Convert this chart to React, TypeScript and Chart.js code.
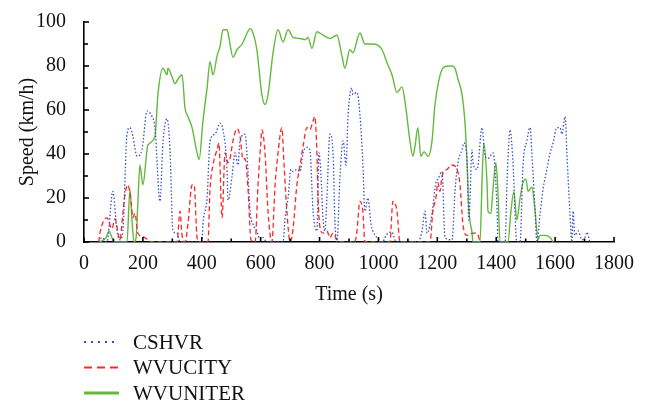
import React, { useEffect, useRef } from "react";
import { Chart, registerables } from "chart.js";

Chart.register(...registerables);

const xTickValues = [0, 200, 400, 600, 800, 1000, 1200, 1400, 1600, 1800];
const yTickValues = [0, 20, 40, 60, 80, 100];
const seriesNames = ["CSHVR", "WVUCITY", "WVUNITER"];

const cshvrT = [50, 61, 78, 98, 112, 122, 132, 146, 156, 166, 180, 197, 214, 231, 241, 258, 268, 282, 292, 302, 316, 326, 401, 404, 418, 428, 445, 462, 472, 486, 489, 503, 513, 523, 530, 547, 554, 564, 574, 587, 598, 608, 620, 676, 683, 693, 703, 710, 723, 734, 744, 757, 767, 778, 791, 798, 805, 812, 818, 825, 835, 846, 852, 859, 869, 880, 890, 897, 910, 913, 927, 937, 947, 954, 964, 975, 981, 995, 1015, 1022, 1032, 1046, 1056, 1066, 1134, 1148, 1158, 1165, 1182, 1195, 1202, 1216, 1226, 1250, 1260, 1270, 1284, 1290, 1301, 1307, 1318, 1321, 1335, 1352, 1362, 1372, 1389, 1403, 1406, 1430, 1437, 1447, 1457, 1470, 1481, 1491, 1504, 1515, 1521, 1532, 1538, 1549, 1559, 1572, 1583, 1593, 1606, 1617, 1623, 1634, 1640, 1650, 1657, 1661, 1667, 1678, 1691, 1701, 1708, 1718];
const cshvrV = [0, 2, 0, 23, 5, 1, 5, 49, 52, 48, 39, 42, 59.5, 57, 52, 18.5, 45, 56, 42, 5, 4, 0, 0, 8, 20, 46, 49, 54, 51, 32, 19, 30, 40.5, 35, 46, 49, 39, 14, 8, 5, 1, 2, 0, 0, 11, 20, 33, 32, 33, 32, 40.5, 43, 42, 14, 5, 40.5, 30, 10, 5, 20, 49, 40, 10, 0, 28.6, 46, 35, 58, 70, 67, 68, 58, 36, 14, 20, 8, 5, 2, 0, 2, 4, 4.5, 1, 0, 0, 5, 14, 4, 13, 27, 28.6, 32, 2, 1, 23, 36, 42, 45, 37.5, 10, 42, 36, 33, 52, 39, 38, 40.5, 14, 0, 0, 28.6, 51, 36, 0, 0, 35, 46, 52, 40.5, 14, 0, 13, 24, 33, 40.5, 45, 52, 52, 49, 57, 40.5, 14, 0, 14, 3, 5, 1, 2, 4.5, 0];

const wvucityT = [50, 54, 78, 95, 105, 122, 132, 139, 149, 160, 166, 173, 183, 200, 217, 231, 316, 326, 333, 343, 353, 367, 374, 384, 391, 421, 428, 438, 445, 452, 458, 469, 479, 489, 496, 506, 520, 530, 540, 547, 557, 567, 581, 591, 601, 604, 615, 625, 638, 649, 659, 672, 679, 689, 700, 710, 723, 734, 744, 757, 767, 778, 784, 791, 795, 801, 812, 825, 835, 846, 859, 869, 920, 927, 937, 947, 954, 1039, 1049, 1063, 1073, 1175, 1185, 1195, 1202, 1209, 1216, 1233, 1250, 1267, 1277, 1287, 1301, 1321, 1335, 1345];
const wvucityV = [0, 4, 11, 6, 10.5, 1, 13, 21.5, 26, 18, 11, 13, 4, 2.5, 1, 0, 0, 14, 3, 0, 8, 26, 26, 2, 0, 0, 24, 35, 39, 42, 45, 11, 40.5, 36, 38, 46, 51.5, 48, 37.5, 38, 24, 1, 0, 26, 46, 51, 40, 14, 0, 26, 40.5, 52, 36, 14, 0, 6, 26, 35, 43.5, 52, 51, 55, 57, 40.5, 20, 7, 4, 5, 2, 4, 1, 0, 0, 5, 18.5, 14, 0, 0, 18.5, 14, 0, 0, 14, 20, 27, 23, 30, 33, 35, 33, 26, 8, 3, 4, 4, 0];

const wvuniterT = [54, 75, 85, 92, 102, 146, 156, 163, 170, 177, 183, 190, 200, 217, 241, 251, 268, 282, 285, 299, 309, 319, 333, 343, 353, 367, 384, 391, 404, 418, 428, 438, 452, 462, 472, 486, 492, 506, 520, 537, 554, 564, 574, 587, 604, 615, 625, 642, 659, 676, 693, 710, 734, 751, 761, 774, 791, 812, 835, 859, 876, 886, 903, 913, 937, 954, 981, 1012, 1029, 1046, 1063, 1080, 1090, 1107, 1117, 1124, 1134, 1144, 1155, 1168, 1182, 1192, 1206, 1219, 1236, 1250, 1260, 1270, 1284, 1294, 1301, 1307, 1318, 1321, 1345, 1352, 1358, 1369, 1372, 1382, 1389, 1399, 1406, 1413, 1440, 1450, 1460, 1470, 1481, 1491, 1501, 1508, 1521, 1532, 1542, 1549, 1566, 1583, 1593];
const wvuniterV = [0, 2, 5, 3, 0, 0, 24, 10, 0, 2, 18, 35, 26, 44, 48, 67, 79, 76, 79, 75, 72, 74, 76, 61, 57, 52, 40.5, 37.5, 55, 70, 82, 76, 84.6, 89, 96.5, 96.5, 93, 84, 87.5, 90, 95, 97, 95, 87.5, 67, 62.5, 67, 86, 96.5, 91, 96.5, 93, 92.5, 92, 93, 88, 95.6, 94, 92.5, 94, 84.6, 79, 87.5, 86, 95, 90, 90, 87.5, 81.5, 76, 68, 70.5, 64, 46, 39, 43.5, 52, 39, 41, 39, 46, 62.5, 74, 79, 80, 80, 79, 74, 67, 54, 36, 15, 4, 0, 0, 28.6, 45, 26, 14, 13, 24, 36, 22, 0, 0, 14, 23, 10, 20, 27, 28.6, 23, 25, 14, 1, 3, 3, 2, 0];

const toPoints = (t: number[], v: number[]) => t.map((x, i) => ({ x, y: v[i] }));

const FONT = "'Liberation Serif', 'Times New Roman', serif";
const FONT_SIZE = 20;
const colors = ["#3d4fc4", "#ff2626", "#63b93c"];
const dashes = [[1.5, 2], [5, 3], []];
const legendDashes = [[2, 5], [8, 5], []];
const legendWidths = [2, 2, 3];

const tickPlugin = {
  id: "innerTicks",
  afterDraw(chart: any) {
    const { ctx, chartArea, scales } = chart;
    const xs = scales.x;
    const ys = scales.y;
    ctx.save();
    ctx.strokeStyle = "#000";
    ctx.lineWidth = 1.6;
    for (let v = 0; v <= 100; v += 10) {
      const y = ys.getPixelForValue(v);
      const len = v % 20 === 0 ? 5 : 4;
      ctx.beginPath();
      ctx.moveTo(chartArea.left, y);
      ctx.lineTo(chartArea.left + len, y);
      ctx.stroke();
    }
    for (let t = 0; t <= 1800; t += 100) {
      const x = xs.getPixelForValue(t);
      const len = t % 200 === 0 ? 5 : 3.5;
      ctx.beginPath();
      ctx.moveTo(x, chartArea.bottom);
      ctx.lineTo(x, chartArea.bottom - len);
      ctx.stroke();
    }
    ctx.restore();
  },
};

const legendPlugin = {
  id: "customLegend",
  afterDraw(chart: any) {
    const { ctx, chartArea } = chart;
    const x0 = chartArea.left;
    ctx.save();
    seriesNames.forEach((name, i) => {
      const y = chart.height - 65 + i * 25.5;
      ctx.beginPath();
      ctx.setLineDash(legendDashes[i]);
      ctx.strokeStyle = colors[i];
      ctx.lineWidth = legendWidths[i];
      ctx.moveTo(x0, y);
      ctx.lineTo(x0 + 35, y);
      ctx.stroke();
      ctx.setLineDash([]);
      ctx.fillStyle = "#111";
      ctx.font = `21px ${FONT}`;
      ctx.textBaseline = "middle";
      ctx.textAlign = "left";
      ctx.fillText(name, x0 + 49, y + 1);
    });
    ctx.restore();
  },
};

export default function App() {
  const ref = useRef<HTMLCanvasElement | null>(null);
  useEffect(() => {
    if (!ref.current) return;
    const data = [toPoints(cshvrT, cshvrV), toPoints(wvucityT, wvucityV), toPoints(wvuniterT, wvuniterV)];
    const chart = new Chart(ref.current, {
      type: "line",
      data: {
        datasets: seriesNames.map((name, i) => ({
          label: name,
          data: data[i],
          borderColor: colors[i],
          borderDash: dashes[i],
          borderWidth: i === 2 ? 1.4 : 1.3,
          pointRadius: 0,
          fill: false,
          cubicInterpolationMode: "monotone" as const,
        })),
      },
      options: {
        responsive: false,
        animation: false,
        layout: { padding: { top: 15, right: 39, bottom: 95, left: 0 } },
        plugins: { legend: { display: false }, tooltip: { enabled: false } },
        scales: {
          x: {
            type: "linear",
            min: 0,
            max: 1800,
            afterBuildTicks: (s: any) => {
              s.ticks = xTickValues.map((value) => ({ value }));
            },
            afterFit: (s: any) => {
              s.height = 70;
            },
            ticks: {
              color: "#111",
              font: { family: FONT, size: FONT_SIZE },
              padding: 2,
              maxRotation: 0,
              autoSkip: false,
              callback: (v: any) => String(v),
            },
            grid: { display: false },
            border: { display: true, color: "#000", width: 1.6 },
            title: { display: true, text: "Time (s)", color: "#111", font: { family: FONT, size: FONT_SIZE }, padding: { top: 0, bottom: 5 } },
          },
          y: {
            type: "linear",
            min: 0,
            max: 100,
            afterBuildTicks: (s: any) => {
              s.ticks = yTickValues.map((value) => ({ value }));
            },
            afterFit: (s: any) => {
              s.width = 84;
            },
            ticks: { color: "#111", font: { family: FONT, size: FONT_SIZE }, padding: 10, callback: (v: any) => String(v) },
            grid: { display: false },
            border: { display: true, color: "#000", width: 1.6 },
            title: { display: true, text: "Speed (km/h)", color: "#111", font: { family: FONT, size: FONT_SIZE }, padding: { top: 16, bottom: 0 } },
          },
        },
      },
      plugins: [tickPlugin, legendPlugin],
    });
    return () => chart.destroy();
  }, []);
  return (
    <div style={{ position: "fixed", left: 0, top: 0, width: 653, height: 407, background: "#fff" }}>
      <canvas ref={ref} width={653} height={407} style={{ display: "block" }} />
    </div>
  );
}
